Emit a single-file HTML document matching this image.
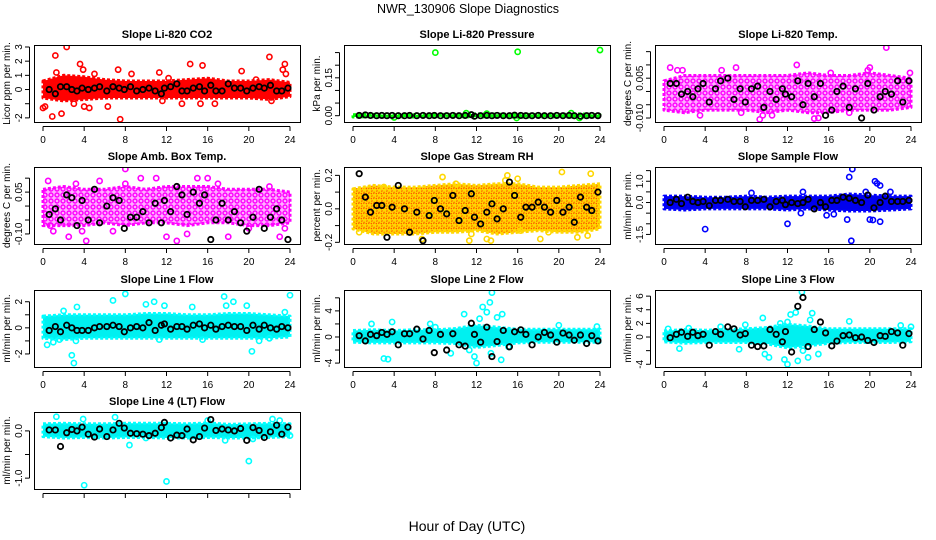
<!DOCTYPE html>
<html><head><meta charset="utf-8"><style>
body{margin:0;background:#fff}
svg{display:block;font-family:"Liberation Sans",Arial,sans-serif}
</style></head><body>
<svg id="chart" width="936" height="540" viewBox="0 0 936 540">
<defs>
<pattern id="pat-magenta" width="6" height="6" patternUnits="userSpaceOnUse"><rect width="6" height="6" fill="#ffb0ff"/><circle cx="3" cy="3" r="2" fill="none" stroke="#ff00ff" stroke-width="1.4"/></pattern>
<pattern id="pat-rh" width="5" height="5" patternUnits="userSpaceOnUse"><rect width="5" height="5" fill="#ffd700"/><circle cx="2.5" cy="2.5" r="1.6" fill="none" stroke="#ff4000" stroke-width="1" stroke-dasharray="1.5 1.5"/></pattern>
</defs>
<text x="468" y="13" text-anchor="middle" font-size="12.5">NWR_130906  Slope Diagnostics</text>
<text x="467" y="531" text-anchor="middle" font-size="14">Hour of Day (UTC)</text>
</svg>
<script>
const xTicks=[0,4,8,12,16,20,24];
const bandHours=[0,2,4,6,8,10,12,14,16,18,20,22,24];
const blkHours=[0.6,1.2,1.7,2.3,2.8,3.3,3.8,4.4,5,5.5,6.2,6.8,7.4,7.9,8.5,9.1,9.7,10.3,10.9,11.5,11.8,12.4,13,13.5,14,14.6,15.2,15.7,16.3,16.8,17.4,18,18.6,19.2,19.8,20.4,21,21.5,22.1,22.7,23.2,23.8];

const co2Lo=[-0.6,-0.8,-0.7,-0.6,-0.6,-0.6,-0.6,-0.6,-0.6,-0.6,-0.6,-0.7,-0.5];
const co2Hi=[0.6,1.0,0.9,0.7,0.6,0.6,0.6,0.7,0.8,0.6,0.6,0.7,0.5];
const co2Pts=[[0,-1.3],[0.2,-1.2],[0.9,-1.9],[1.2,2.4],[1.3,1.2],[1.8,-1.7],[2.3,3],[3,-1],[3.6,1.8],[3.9,1.4],[4,-1.2],[4.5,-1.3],[5,1.1],[6.3,-1.2],[7.3,1.4],[7.5,-2.1],[8.6,1.1],[11.3,1.2],[11.6,-0.8],[12.2,0.8],[13.5,-1],[14.3,1.8],[15.3,-1],[15.5,1.7],[16.7,-1],[19.3,1.3],[20.7,0.7],[22,2.3],[22.2,-0.8],[23.3,1.4],[23.5,1.8],[23.6,1.1]];
const co2Blk=[0,-0.3,0.2,0.2,0,-0.1,0.1,0,0.1,0.2,-0.1,0.2,0.1,0,0.2,-0.1,0,0.1,-0.1,-0.3,0.1,0.2,0.4,-0.1,-0.1,0.1,0.2,-0.1,0.3,-0.1,-0.1,0.4,0.1,0.1,-0.1,0.1,0.2,0.1,0.3,-0.1,-0.1,0.1];

const presLo=[-0.005,-0.004,-0.005,-0.005,-0.004,-0.004,-0.005,-0.005,-0.006,-0.005,-0.005,-0.006,-0.005];
const presHi=[0.004,0.005,0.004,0.004,0.005,0.005,0.007,0.006,0.005,0.005,0.005,0.007,0.004];
const presPts=[[8,0.25],[16,0.253],[24,0.26],[15.9,-0.009],[11,0.01],[21.2,0.01],[22,-0.009],[4,-0.007],[13,0.008]];
const presBlk=[0.001,0.003,0.001,0,0.001,0,0.001,0,0,0.001,0,0.001,0,0.001,0,0,0.001,0,0.001,0.004,-0.002,0,0.001,0,0.001,0,0,0.002,0.001,0,0,0.001,0,0,0.001,0,0.001,0,-0.002,0,0.001,0];

const tmpLo=[-0.007,-0.008,-0.007,-0.007,-0.007,-0.008,-0.007,-0.008,-0.008,-0.007,-0.007,-0.007,-0.006];
const tmpHi=[0.004,0.006,0.006,0.006,0.006,0.006,0.006,0.007,0.006,0.006,0.007,0.006,0.005];
const tmpPts=[[0.6,0.009],[1.3,0.008],[1.8,0.008],[3.5,-0.009],[7,0.009],[7.5,-0.008],[9.3,-0.0105],[9.6,-0.009],[12.9,0.01],[14.6,-0.0102],[15,-0.01],[16.2,0.007],[18,-0.008],[19.8,0.008],[20,0.009],[21.6,0.0165],[23.9,0.007],[10.5,-0.009],[5.6,0.008]];
const tmpBlk=[0.003,0.003,-0.001,0,-0.002,0.001,0.003,-0.004,0.001,0.004,0.005,-0.003,0.001,-0.004,0.001,0.002,-0.006,0,-0.003,0.001,-0.001,-0.002,0.004,-0.005,0.003,-0.002,0.003,-0.009,-0.007,0,0.002,-0.006,0.001,-0.01,0.003,-0.007,-0.002,0,-0.001,0.004,-0.004,0.004];

const ambLo=[-0.07,-0.07,-0.07,-0.06,-0.07,-0.06,-0.06,-0.07,-0.06,-0.06,-0.07,-0.07,-0.06];
const ambHi=[0.06,0.07,0.06,0.06,0.07,0.06,0.07,0.07,0.07,0.06,0.06,0.06,0.05];
const ambPts=[[0.5,0.09],[0.7,-0.07],[1,-0.09],[2.5,-0.11],[3.2,0.08],[4.2,-0.125],[5.5,0.09],[6.8,-0.09],[8,0.133],[8,0.08],[9.5,0.1],[11,0.1],[12,-0.11],[13,-0.125],[14,-0.1],[15,0.1],[16,0.1],[17,0.08],[18,-0.11],[20,-0.08],[22,0.07],[23,-0.11],[23.5,-0.08],[3.8,-0.09]];
const ambBlk=[-0.03,-0.01,-0.05,0.04,0.03,-0.07,0.02,-0.05,0.06,-0.06,0,0.03,0.02,-0.08,-0.04,-0.04,-0.02,-0.06,0.01,-0.06,0.02,-0.02,0.07,0.04,-0.03,0.05,0.01,0.04,-0.12,-0.05,0.01,-0.05,-0.02,-0.06,-0.09,-0.04,0.06,-0.08,-0.04,-0.01,-0.05,-0.12];

const rhLo=[-0.12,-0.15,-0.15,-0.15,-0.14,-0.14,-0.13,-0.15,-0.14,-0.13,-0.14,-0.14,-0.12];
const rhHi=[0.12,0.14,0.13,0.13,0.14,0.15,0.14,0.15,0.15,0.13,0.13,0.14,0.15];
const rhPts=[[0.6,-0.14],[3,0.13],[6.7,-0.18],[8.7,0.19],[10,0.15],[11.3,-0.19],[11.5,-0.15],[13,-0.18],[13.4,-0.19],[14.8,0.17],[15,0.2],[16,0.18],[16.3,-0.13],[18.2,-0.18],[20.3,0.22],[21.8,-0.17],[23.1,0.21],[22.8,-0.16],[19,-0.14]];
const rhBlk=[0.21,0.07,-0.02,0.02,0.02,-0.17,0.01,0.14,0,-0.14,-0.02,-0.19,-0.04,0.05,0,-0.03,0.08,-0.07,-0.01,0.09,-0.05,-0.09,-0.02,0.03,-0.06,0,0.16,0.08,-0.05,0.01,0.01,0.04,0.01,-0.02,0.05,-0.02,0.01,-0.08,0.07,0.01,-0.01,0.1];

const smpLo=[-0.3,-0.35,-0.3,-0.3,-0.3,-0.3,-0.35,-0.3,-0.35,-0.4,-0.4,-0.35,-0.3];
const smpHi=[0.3,0.3,0.25,0.25,0.3,0.25,0.3,0.3,0.3,0.4,0.35,0.3,0.3];
const smpPts=[[4,-1.25],[12,-1.0],[18.2,-1.8],[18.3,1.57],[18,1.2],[20.5,1.0],[20.7,0.9],[21,0.8],[17.8,-0.8],[20,-0.8],[20.3,-0.82],[21,-0.9],[8.5,0.45],[13.5,0.5],[15.8,-0.6],[22,0.5],[19.6,0.5],[13.3,-0.5],[16.5,-0.55]];
const smpBlk=[0,0.15,-0.05,0.25,0.05,0,0.05,-0.15,0.1,0.1,0.15,0.05,0.05,-0.2,0.1,0.1,0.15,-0.2,0.05,0.1,-0.1,0,-0.05,0,0.15,-0.3,0,-0.2,0.1,0.1,0.25,0.2,0.1,0,0.35,-0.25,0,0.3,0.05,0.05,0.05,0.1];

const l1Lo=[-0.8,-0.9,-0.8,-0.8,-0.8,-0.8,-0.8,-0.8,-0.8,-0.8,-0.8,-0.8,-0.7];
const l1Hi=[0.9,1.0,1.0,1.0,1.0,1.1,1.1,1.0,1.0,1.1,1.1,1.0,0.9];
const l1Pts=[[0.4,-1.3],[1,-1.1],[1.6,-0.9],[2.8,-2.1],[3,-2.7],[3.2,-1],[3.3,1.6],[6.8,2.1],[8,2.6],[10,1.8],[10.8,2],[11.3,-0.9],[11.8,1.7],[14.5,1.6],[15.5,-0.9],[17.6,2.4],[17.8,1.7],[18.5,2],[19.8,1.7],[20.3,-1.8],[21,-1],[22,-0.8],[24,2.5],[23.5,1.2],[2,1.3]];
const l1Blk=[-0.2,0.1,-0.3,0.2,0,-0.2,-0.2,-0.2,0,0.1,0.1,0.2,0.1,-0.3,0,0.1,0,0.4,-0.2,0.2,0.3,-0.1,0.1,0.1,-0.1,0.2,0.3,0,0.2,-0.1,0.1,0.2,0.1,0.1,-0.2,0.2,-0.1,0.2,0,-0.1,0.1,0];

const l2Lo=[-0.8,-0.9,-0.9,-0.9,-0.9,-1.0,-1.6,-1.3,-0.9,-0.8,-0.8,-0.8,-0.8];
const l2Hi=[1.0,1.1,1.0,1.1,1.1,1.3,1.8,1.5,1.2,1.2,1.2,1.2,1.2];
const l2Pts=[[1.8,2],[3.8,2.3],[3,-3.3],[3.4,-3.4],[7.5,2],[8,1.5],[9.5,-2.5],[10.8,3.5],[11.3,-2],[11.8,-3],[12,-4],[12.3,2.8],[12.6,4.6],[13,3.8],[13.3,5.3],[13.5,6.8],[13.4,-2.5],[14,3],[14.4,-3.5],[14.5,3.5],[15.1,-1.5],[20,1.8],[23.7,1.6]];
const l2Blk=[0.2,-0.6,0.4,0.2,0.7,0.4,0.8,-1.2,0.5,0.5,1.2,-0.3,1,-2.4,0.4,-2,0.5,-1.2,-1.4,2.1,0.4,-0.8,1.5,-3,-0.7,1,-1.5,0.8,1.1,0.4,-1.2,0,0.7,0.3,-0.8,0.6,0.3,-0.5,0.3,-1,0.2,-0.6];

const l3Lo=[-0.7,-0.9,-0.8,-0.8,-0.8,-1.0,-1.6,-1.3,-0.9,-0.8,-0.8,-0.8,-0.7];
const l3Hi=[0.9,1.1,1.0,1.1,1.2,1.4,1.9,1.6,1.2,1.2,1.2,1.2,1.2];
const l3Pts=[[0.4,1.2],[1.5,-1.7],[2.4,1.3],[5.5,1.5],[7.3,-1.8],[7.9,1.8],[9.8,-2.5],[10.2,-3],[9.6,2.8],[11.3,2],[12,2.2],[12.3,3.3],[12.8,3.6],[13.4,6.6],[13.5,-2],[14.4,3.5],[14.2,2.5],[14,-3],[15,-2.5],[13,-3.5],[12,-4],[18,2.3],[23,1.7],[24,1.5],[11.7,-3.3]];
const l3Blk=[-0.1,0.4,0.7,0.1,0.7,0.2,0.4,-1.2,0.8,0.4,1.5,1.2,0.3,0.5,-1.2,-1.4,-1.3,1.1,0.4,-0.7,0.8,-2.2,4.5,5.8,-1.4,1.1,2.2,0.6,-1.3,-0.6,0.2,0.3,-0.1,0,-0.5,-0.8,0.2,0.1,0.8,0.6,-1.2,0.5];

const l4Lo=[-0.12,-0.15,-0.14,-0.15,-0.14,-0.14,-0.15,-0.15,-0.14,-0.15,-0.15,-0.14,-0.12];
const l4Hi=[0.15,0.16,0.15,0.15,0.16,0.16,0.16,0.15,0.17,0.14,0.15,0.16,0.15];
const l4Pts=[[4,-1.15],[12,-1.07],[20,-0.64],[1.3,0.3],[7,0.29],[3.9,0.25],[16,0.22],[8.4,-0.3],[10,-0.15],[22.3,0.25],[23,0.22],[24,-0.1],[17.7,-0.2],[20.4,-0.17]];
const l4Blk=[0.02,0.02,-0.33,-0.04,0.03,0,0.08,-0.07,-0.13,0.04,-0.12,0.02,0.16,0.06,-0.05,-0.06,-0.07,-0.1,-0.05,0.07,0.18,-0.15,-0.09,-0.1,0.04,-0.19,-0.12,0.06,0.24,0.01,0.04,0.02,0,0.05,-0.2,0.07,0.01,-0.14,-0.02,0.12,-0.07,0.08];

const panels=[
 {name:'co2',title:'Slope Li-820 CO2',ylab:'Licor ppm per min.',col:0,row:0,ylim:[-2.29,3.14],ticks:[-2,-1,0,1,2,3],labels:['-2','0','1','2','3'],lv:[-2,0,1,2,3],c:'#ff0000',f:'#ff0000',lo:co2Lo,hi:co2Hi,pts:co2Pts,blk:co2Blk},
 {name:'pressure',title:'Slope Li-820 Pressure',ylab:'kPa per min.',col:1,row:0,ylim:[-0.025,0.28],ticks:[0,0.05,0.10,0.15,0.20,0.25],labels:['0.00','0.15'],lv:[0,0.15],c:'#00ff00',f:'#00ee00',lo:presLo,hi:presHi,pts:presPts,blk:presBlk},
 {name:'temp',title:'Slope Li-820 Temp.',ylab:'degrees C per min.',col:2,row:0,ylim:[-0.0115,0.0175],ticks:[-0.010,-0.005,0,0.005,0.010,0.015],labels:['-0.010','0.005'],lv:[-0.010,0.005],c:'#ff00ff',f:'url(#pat-magenta)',lo:tmpLo,hi:tmpHi,pts:tmpPts,blk:tmpBlk},
 {name:'amb-box-temp',title:'Slope Amb. Box Temp.',ylab:'degrees C per min.',col:0,row:1,ylim:[-0.136,0.14],ticks:[-0.10,-0.05,0,0.05,0.10],labels:['-0.10','0.05'],lv:[-0.10,0.05],c:'#ff00ff',f:'url(#pat-magenta)',lo:ambLo,hi:ambHi,pts:ambPts,blk:ambBlk},
 {name:'gas-rh',title:'Slope Gas Stream RH',ylab:'percent per min.',col:1,row:1,ylim:[-0.21,0.25],ticks:[-0.2,-0.1,0,0.1,0.2],labels:['-0.2','0.0','0.2'],lv:[-0.2,0,0.2],c:'#ffd700',f:'url(#pat-rh)',lo:rhLo,hi:rhHi,pts:rhPts,blk:rhBlk},
 {name:'sample-flow',title:'Slope Sample Flow',ylab:'ml/min per min.',col:2,row:1,ylim:[-1.95,1.67],ticks:[-1.5,-1.0,-0.5,0,0.5,1.0,1.5],labels:['-1.5','0.0','1.0'],lv:[-1.5,0,1.0],c:'#0000ff',f:'#0000ee',lo:smpLo,hi:smpHi,pts:smpPts,blk:smpBlk},
 {name:'line1-flow',title:'Slope Line 1 Flow',ylab:'ml/min per min.',col:0,row:2,ylim:[-3.0,2.9],ticks:[-2,-1,0,1,2],labels:['-2','0','2'],lv:[-2,0,2],c:'#00ffff',f:'#00f0f0',lo:l1Lo,hi:l1Hi,pts:l1Pts,blk:l1Blk},
 {name:'line2-flow',title:'Slope Line 2 Flow',ylab:'ml/min per min.',col:1,row:2,ylim:[-4.6,7.2],ticks:[-4,-2,0,2,4,6],labels:['-4','0','4'],lv:[-4,0,4],c:'#00ffff',f:'#00f0f0',lo:l2Lo,hi:l2Hi,pts:l2Pts,blk:l2Blk},
 {name:'line3-flow',title:'Slope Line 3 Flow',ylab:'ml/min per min.',col:2,row:2,ylim:[-4.4,6.9],ticks:[-4,-2,0,2,4,6],labels:['-4','0','2','4','6'],lv:[-4,0,2,4,6],c:'#00ffff',f:'#00f0f0',lo:l3Lo,hi:l3Hi,pts:l3Pts,blk:l3Blk},
 {name:'line4-flow',title:'Slope Line 4 (LT) Flow',ylab:'ml/min per min.',col:0,row:3,ylim:[-1.23,0.40],ticks:[-1.0,-0.5,0],labels:['-1.0','0.0'],lv:[-1.0,0],c:'#00ffff',f:'#00f0f0',lo:l4Lo,hi:l4Hi,pts:l4Pts,blk:l4Blk,noXLabels:true}
];
const colLeft=[34,344,655], rowTop=[45,167,290,412], W=266, H=77;
const NS='http://www.w3.org/2000/svg';
const svg=document.getElementById('chart');
function mk(tag,attrs,parent){const e=document.createElementNS(NS,tag);for(const k in attrs)e.setAttribute(k,attrs[k]);(parent||svg).appendChild(e);return e;}

panels.forEach(p=>{
  const L=colLeft[p.col], T=rowTop[p.row];
  const g=mk('g',{});
  
  
  const xs=h=>L+9+h*(247/24);
  const ys=v=>T+H-(v-p.ylim[0])/(p.ylim[1]-p.ylim[0])*H;
  const clip=mk('clipPath',{id:'clip-'+p.name},g);
  mk('rect',{x:L,y:T,width:W,height:H},clip);
  const plot=mk('g',{'clip-path':'url(#clip-'+p.name+')'},g);
  
  
  let d='';
  bandHours.forEach((h,i)=>{d+=(i?'L':'M')+xs(h).toFixed(1)+','+ys(p.hi[i]).toFixed(1);});
  for(let i=bandHours.length-1;i>=0;i--)d+='L'+xs(bandHours[i]).toFixed(1)+','+ys(p.lo[i]).toFixed(1);
  const band=mk('path',{d:d+'Z',fill:p.f,stroke:p.c,'stroke-width':3,'stroke-dasharray':'3 2','stroke-linejoin':'round'},plot);
  
  
  p.pts.forEach(pt=>{
    const c=mk('circle',{cx:xs(pt[0]),cy:ys(pt[1]),r:2.6,fill:'none',stroke:p.c,'stroke-width':1.6},plot);
    
    
  });
  p.blk.forEach((v,i)=>{
    const c=mk('circle',{cx:xs(blkHours[i]),cy:ys(v),r:2.7,fill:'none',stroke:'#000','stroke-width':1.8},plot);
    
    
  });
  const box=mk('rect',{x:L+0.5,y:T+0.5,width:W,height:H,fill:'none',stroke:'#000','stroke-width':1},g);
  
  
  const tt=mk('text',{x:L+W/2,y:T-7,'text-anchor':'middle','font-size':11,'font-weight':'bold'},g);
  tt.textContent=p.title;
  
  
  const xa=mk('g',{stroke:'#000'},g);
  
  
  mk('line',{x1:xs(0),x2:xs(24),y1:T+H+4.5,y2:T+H+4.5},xa);
  xTicks.forEach(t=>{
    mk('line',{x1:xs(t),x2:xs(t),y1:T+H+4.5,y2:T+H+9},xa);
    if(!p.noXLabels){
      const tx=mk('text',{x:xs(t),y:T+H+21,'text-anchor':'middle','font-size':10,stroke:'none'},xa);
      tx.textContent=String(t);
      
      
    }
  });
  const ya=mk('g',{stroke:'#000'},g);
  
  
  const vt=p.ticks.filter(t=>t>=p.ylim[0]&&t<=p.ylim[1]);
  mk('line',{x1:L-4.5,x2:L-4.5,y1:ys(vt[0]),y2:ys(vt[vt.length-1])},ya);
  vt.forEach(t=>mk('line',{x1:L-9,x2:L-4.5,y1:ys(t),y2:ys(t)},ya));
  p.labels.forEach((lab,i)=>{
    const y=ys(p.lv[i]);
    const tx=mk('text',{x:L-12,y:y,'text-anchor':'middle','font-size':10,stroke:'none',transform:'rotate(-90 '+(L-12)+' '+y+')'},ya);
    tx.textContent=lab;
    
    
  });
  const yl=mk('text',{x:L-24,y:T+H/2,'text-anchor':'middle','font-size':10,transform:'rotate(-90 '+(L-24)+' '+(T+H/2)+')'},g);
  yl.textContent=p.ylab;
  
  
});
</script>
</body></html>
